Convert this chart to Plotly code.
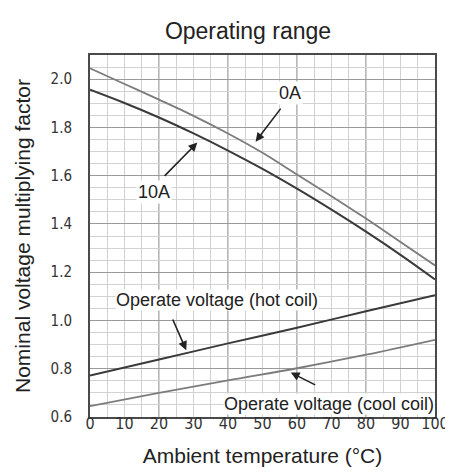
import plotly.graph_objects as go

# ---- data ----
temp = [0, 10, 20, 30, 40, 50, 60, 70, 80, 90, 100]
factor_0A = [2.045, 1.980, 1.915, 1.848, 1.775, 1.695, 1.605, 1.515, 1.422, 1.325, 1.228]
factor_10A = [1.956, 1.901, 1.841, 1.775, 1.704, 1.628, 1.546, 1.459, 1.368, 1.272, 1.170]

temp_coil = [0, 20, 40, 60, 80, 100]
hot_coil = [0.772, 0.838, 0.905, 0.970, 1.038, 1.105]
cool_coil = [0.645, 0.700, 0.752, 0.802, 0.858, 0.920]

x_tick_step = 10
y_tick_step = 0.2

TEXT_FONT = "Liberation Sans, Arial, sans-serif"
TICK_FONT = "DejaVu Sans Condensed, Liberation Sans Narrow, Liberation Sans, sans-serif"

fig = go.Figure()
fig.add_trace(go.Scatter(x=temp, y=factor_0A, mode="lines", name="0A",
                         line=dict(color="#7c7c7c", width=1.8, shape="spline")))
fig.add_trace(go.Scatter(x=temp, y=factor_10A, mode="lines", name="10A",
                         line=dict(color="#3a3a3a", width=2, shape="spline")))
fig.add_trace(go.Scatter(x=temp_coil, y=hot_coil, mode="lines", name="Operate voltage (hot coil)",
                         line=dict(color="#3a3a3a", width=2, shape="spline")))
fig.add_trace(go.Scatter(x=temp_coil, y=cool_coil, mode="lines", name="Operate voltage (cool coil)",
                         line=dict(color="#7c7c7c", width=1.8, shape="spline")))

# darker grid lines every 20 degC
shapes = []
for v in range(20, 100, 20):
    shapes.append(dict(type="line", xref="x", yref="paper", x0=v, x1=v, y0=0, y1=1,
                       line=dict(color="#9a9a9a", width=1.4), layer="below"))

ann_font = dict(family=TEXT_FONT, size=18, color="#222")
arrow_style = dict(showarrow=True, arrowhead=2, arrowsize=1.1, arrowwidth=1.6,
                   arrowcolor="#222", axref="x", ayref="y", text="")
annotations = [
    dict(x=58.1, y=1.941, text="0A", showarrow=False, font=ann_font, bgcolor="white"),
    dict(x=48.0, y=1.741, ax=55.6, ay=1.884, **arrow_style),
    dict(x=18.6, y=1.534, text="10A", showarrow=False, font=ann_font, bgcolor="white"),
    dict(x=31.1, y=1.737, ax=21.2, ay=1.593, **arrow_style),
    dict(x=36.8, y=1.083, text="Operate voltage (hot coil)", showarrow=False, font=ann_font,
         bgcolor="white", borderpad=0),
    dict(x=27.9, y=0.877, ax=23.8, ay=1.010, **arrow_style),
    dict(x=69.3, y=0.652, text="Operate voltage (cool coil)", showarrow=False, font=ann_font,
         bgcolor="white", borderpad=0),
    dict(x=58.2, y=0.784, ax=65.7, ay=0.730, **arrow_style),
]

fig.update_layout(
    width=453, height=472,
    margin=dict(l=82, r=17, t=47, b=63),
    paper_bgcolor="white", plot_bgcolor="white",
    showlegend=False,
    title=dict(text="Operating range", x=240 / 453, xanchor="center",
               y=1 - 23 / 472, yanchor="middle", yref="container",
               font=dict(family=TEXT_FONT, size=23, color="#222")),
    shapes=shapes,
    annotations=annotations,
    xaxis=dict(range=[0, 100], tick0=0, dtick=x_tick_step, ticks="",
               showgrid=True, gridcolor="#d2d2d2", gridwidth=1,
               minor=dict(dtick=5, tick0=0, showgrid=True, gridcolor="#d2d2d2", gridwidth=1),
               showline=True, linecolor="#4a4a4a", linewidth=2, mirror=True,
               zeroline=False, ticklabelstandoff=-9,
               tickfont=dict(family=TICK_FONT, size=16, color="#333"),
               title=dict(text="Ambient temperature (°C)", standoff=16,
                          font=dict(family=TEXT_FONT, size=21, color="#222"))),
    yaxis=dict(range=[0.6, 2.1], tick0=0.6, dtick=y_tick_step, tickformat=".1f", ticks="",
               showgrid=True, gridcolor="#9a9a9a", gridwidth=1.4,
               minor=dict(dtick=0.05, tick0=0.6, showgrid=True, gridcolor="#d2d2d2", gridwidth=1),
               showline=True, linecolor="#4a4a4a", linewidth=2, mirror=True,
               zeroline=False, ticklabelstandoff=13,
               tickfont=dict(family=TICK_FONT, size=15, color="#333"),
               title=dict(text="Nominal voltage multiplying factor", standoff=14,
                          font=dict(family=TEXT_FONT, size=21, color="#222"))),
)

fig.write_html("out.html")
